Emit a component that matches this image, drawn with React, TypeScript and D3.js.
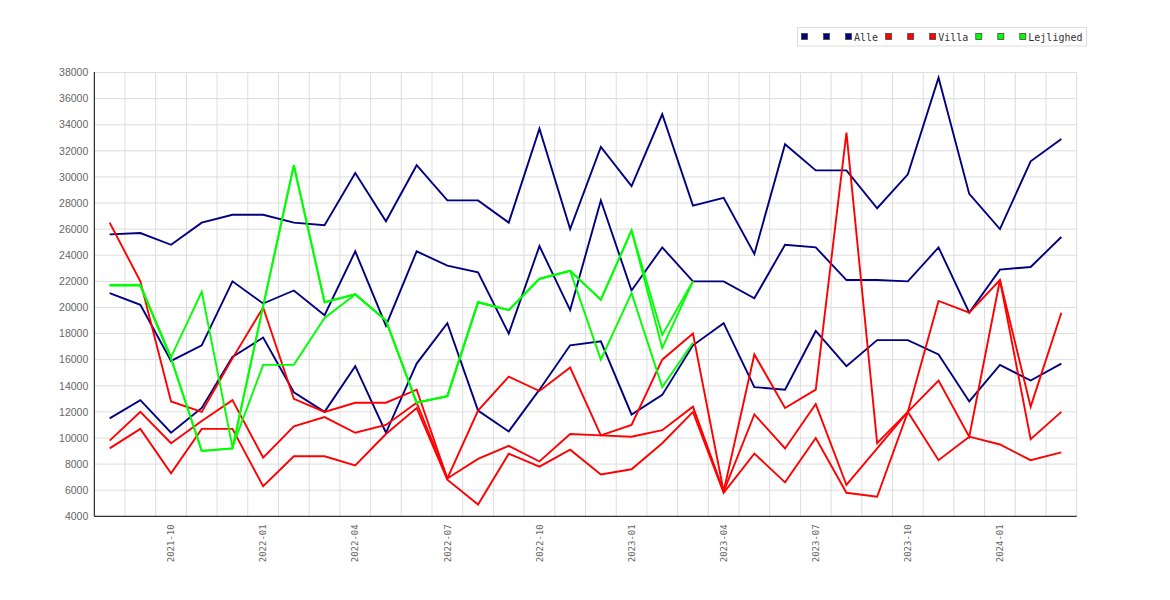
import * as d3 from "d3"

const months = [
  "2021-08", "2021-09", "2021-10", "2021-11", "2021-12",
  "2022-01", "2022-02", "2022-03", "2022-04", "2022-05", "2022-06",
  "2022-07", "2022-08", "2022-09", "2022-10", "2022-11", "2022-12",
  "2023-01", "2023-02", "2023-03", "2023-04", "2023-05", "2023-06",
  "2023-07", "2023-08", "2023-09", "2023-10", "2023-11", "2023-12",
  "2024-01", "2024-02", "2024-03",
]

const alleHigh = [25600, 25700, 24800, 26500, 27100, 27100, 26500, 26300, 30300, 26600, 30900, 28200, 28200, 26500, 33700, 26000, 32300, 29300, 34800, 27800, 28400, 24100, 32500, 30500, 30500, 27600, 30200, 37600, 28700, 26000, 31200, 32900]
const alleMid = [21100, 20200, 15900, 17100, 22000, 20300, 21300, 19400, 24300, 18600, 24300, 23200, 22700, 18000, 24700, 19800, 28200, 21300, 24600, 22000, 22000, 20700, 24800, 24600, 22100, 22100, 22000, 24600, 19600, 22900, 23100, 25400]
const alleLow = [11500, 12900, 10400, 12300, 16200, 17700, 13500, 12000, 15500, 10400, 15700, 18800, 12100, 10500, 13700, 17100, 17400, 11800, 13300, 17100, 18800, 13900, 13700, 18200, 15500, 17500, 17500, 16400, 12800, 15600, 14400, 15700]

const villaHigh = [26500, 22000, 12800, 12000, 16100, 20000, 13000, 12000, 12700, 12700, 13700, 6900, 12100, 14700, 13600, 15400, 10200, 11000, 16000, 18000, 5900, 16400, 12300, 13700, 33400, 9600, 12000, 20500, 19600, 22100, 12400, 19600]
const villaMid = [9800, 12000, 9600, 11300, 12900, 8500, 10900, 11600, 10400, 11000, 12700, 6900, 8400, 9400, 8200, 10300, 10200, 10100, 10600, 12400, 5900, 11800, 9200, 12600, 6400, 9200, 12000, 14400, 10100, 22100, 9900, 12000]
const villaLow = [9200, 10700, 7300, 10700, 10700, 6300, 8600, 8600, 7900, 10300, 12300, 6800, 4900, 8800, 7800, 9100, 7200, 7600, 9600, 12000, 5800, 8800, 6600, 10000, 5800, 5500, 12000, 8300, 10100, 9500, 8300, 8900]

const lejHigh = [21700, 21700, 16100, 9000, 9200, 20100, 30900, 20400, 21000, 19000, 12700, 13200, 20400, 19800, 22200, 22800, 20600, 25900, 17900, 22000]
const lejMid = [21700, 21700, 16100, 9000, 9200, 20100, 30900, 20400, 21000, 19000, 12700, 13200, 20400, 19800, 22200, 22800, 20600, 25900, 16900, 22000]
const lejLow = [21700, 21700, 16200, 21200, 9300, 15600, 15600, 19200, 21000, 19000, 12700, 13200, 20400, 19800, 22200, 22800, 16000, 21100, 13900, 17300]

const yTicks = d3.range(4000, 38001, 2000)

const series = [
  { label: "", color: "#000080", values: alleHigh },
  { label: "", color: "#000080", values: alleMid },
  { label: "Alle", color: "#000080", values: alleLow },
  { label: "", color: "#ff0000", values: villaHigh },
  { label: "", color: "#ff0000", values: villaMid },
  { label: "Villa", color: "#ff0000", values: villaLow },
  { label: "", color: "#00ff00", values: lejHigh },
  { label: "", color: "#00ff00", values: lejMid },
  { label: "Lejlighed", color: "#00ff00", values: lejLow },
]

const width = 1170
const height = 600
const margin = { top: 72.5, right: 93.3, bottom: 83.7, left: 94.3 }

export default function App() {
  const x = d3
    .scaleBand<string>()
    .domain(months)
    .range([margin.left, width - margin.right])
  const y = d3
    .scaleLinear()
    .domain([4000, 38000])
    .range([height - margin.bottom, margin.top])

  const bw = x.bandwidth()
  const left = margin.left
  const right = width - margin.right
  const top = margin.top
  const bottom = height - margin.bottom

  const line = d3
    .line<number | undefined>()
    .defined((d) => d != null)
    .x((_, i) => (x(months[i]) as number) + bw / 2)
    .y((d) => y(d as number))

  // legend layout: square, label, fixed gap
  let lx = 801.5
  const legendItems = series.map((s) => {
    const item = { ...s, x: lx }
    lx += 16 + 6.02 * Math.max(1, s.label.length)
    return item
  })

  const tickMonths = months.filter((m) => ["01", "04", "07", "10"].includes(m.slice(5)))

  return (
    <div style={{ position: "absolute", left: 0, top: 0 }}>
      <svg width={width} height={height} style={{ display: "block", background: "#fff" }}>
        {/* grid */}
        <g stroke="#dddddd" strokeWidth={1}>
          {yTicks.slice(1).map((t) => (
            <line key={"h" + t} x1={left} x2={right} y1={y(t)} y2={y(t)} />
          ))}
          {months.slice(1).map((m) => (
            <line key={"v" + m} x1={x(m)} x2={x(m)} y1={top} y2={bottom} />
          ))}
          <line x1={right} x2={right} y1={top} y2={bottom} />
        </g>

        {/* series */}
        <g fill="none" strokeWidth={1.9} strokeLinejoin="miter">
          {series.map((s, i) => (
            <path key={i} d={line(s.values) ?? ""} stroke={s.color} />
          ))}
        </g>

        {/* axes */}
        <line x1={left} x2={left} y1={top - 0.5} y2={bottom} stroke="#000" />
        <line x1={left} x2={right} y1={bottom} y2={bottom} stroke="#000" />

        <g fontFamily="'Liberation Sans', Arial, sans-serif" fontSize={10.5} fill="#666" textAnchor="end">
          {yTicks.map((t) => (
            <text key={t} x={left - 6} y={y(t)} dy="0.36em">
              {t}
            </text>
          ))}
        </g>

        <g fontFamily="'DejaVu Sans Mono', monospace" fontSize={9} fill="#666" textAnchor="end">
          {tickMonths.map((m) => {
            const cx = (x(m) as number) + bw / 2
            return (
              <text key={m} transform={`translate(${cx},${bottom + 8}) rotate(-90)`} dy="0.35em">
                {m}
              </text>
            )
          })}
        </g>

        {/* legend */}
        <rect x={797.5} y={27.5} width={289} height={18.5} fill="#fff" stroke="#dddddd" />
        <g fontFamily="'DejaVu Sans Mono', monospace" fontSize={10} fill="#333">
          {legendItems.map((it, i) => (
            <g key={i}>
              <rect x={it.x} y={33.5} width={6} height={6} fill={it.color} stroke="#444" strokeWidth={0.8} />
              {it.label && (
                <text x={it.x + 8.5} y={40.5}>
                  {it.label}
                </text>
              )}
            </g>
          ))}
        </g>
      </svg>
    </div>
  )
}
